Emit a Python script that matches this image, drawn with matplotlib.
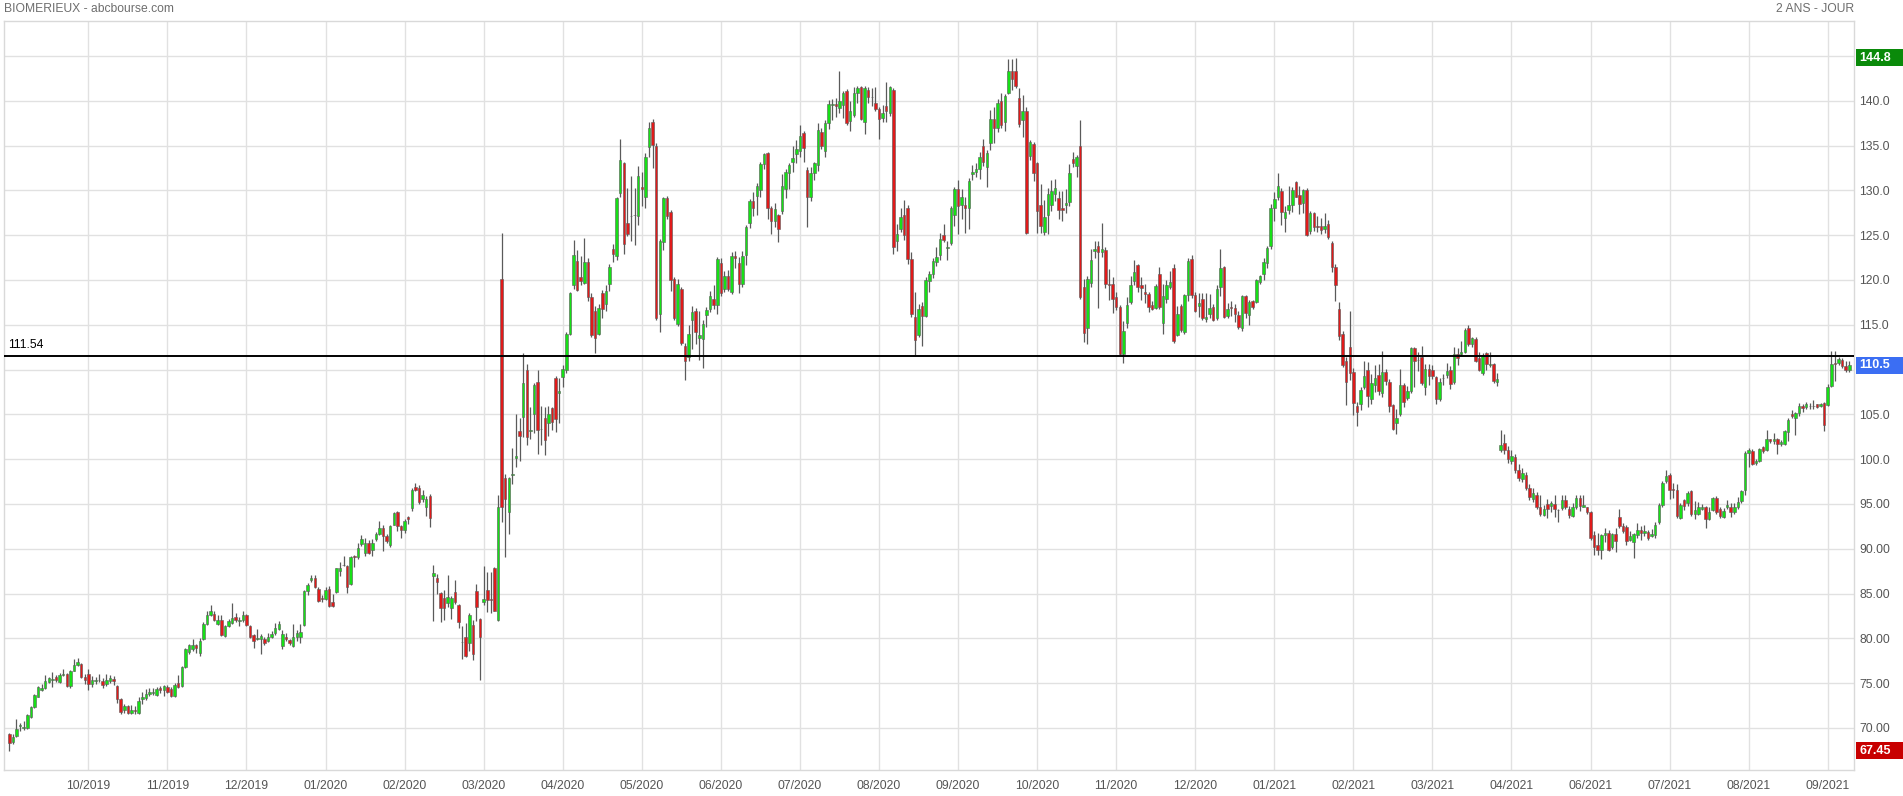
import numpy as np
import matplotlib
matplotlib.use('Agg')
import matplotlib.pyplot as plt
from matplotlib.patches import Rectangle
from matplotlib.ticker import FuncFormatter
import matplotlib.transforms as mtrans

# cours journaliers BIOMERIEUX (ouverture, plus haut, plus bas, cloture)
opens = [
    69.3, 68.4, 69.1, 70.2, 70.0, 70.0, 71.2, 72.3, 73.5, 74.2,
    74.4, 75.1, 75.35, 75.7, 75.1, 75.95, 76.0, 74.7, 76.4, 77.0,
    77.1, 75.7, 76.0, 74.9, 75.25, 75.3, 75.2, 74.9, 75.2, 75.5,
    74.7, 73.2, 72.0, 72.4, 71.7, 72.0, 71.7, 73.2, 73.3, 73.8,
    73.95, 73.7, 74.5, 74.2, 74.6, 74.3, 73.6, 75.0, 74.7, 76.8,
    78.5, 78.8, 79.2, 78.4, 79.9, 81.6, 82.6, 82.7, 81.6, 82.0,
    80.3, 81.4, 81.7, 82.4, 81.9, 82.0, 82.6, 81.4, 80.4, 79.9,
    79.9, 79.9, 79.7, 80.2, 80.55, 81.0, 79.1, 80.2, 79.8, 79.1,
    80.1, 80.2, 81.5, 85.3, 86.5, 86.7, 85.5, 84.5, 84.4, 85.5,
    84.0, 85.2, 87.5, 88.15, 88.1, 86.1, 89.2, 89.1, 90.5, 89.5,
    90.6, 89.8, 91.1, 91.6, 92.3, 91.4, 90.4, 92.7, 94.1, 92.5,
    92.1, 93.5, 94.5, 96.9, 96.8, 95.5, 94.7, 95.9, 86.9, 86.7,
    85.1, 84.5, 83.9, 83.4, 85.2, 83.7, 79.55, 80.2, 79.5, 81.5,
    85.3, 82.1, 84.0, 85.4, 84.4, 87.9, 82.0, 120.1, 97.9, 94.1,
    98.25, 100.1, 103.1, 104.7, 110.0, 103.1, 105.0, 108.6, 103.35, 104.6,
    104.0, 105.7, 109.1, 107.4, 109.2, 109.9, 114.0, 119.4, 122.1, 120.3,
    119.7, 122.0, 118.1, 116.5, 114.0, 118.5, 117.3, 119.5, 123.5, 122.7,
    129.7, 133.0, 126.4, 127.15, 127.25, 127.1, 130.4, 129.2, 134.8, 137.6,
    134.9, 116.2, 124.2, 129.1, 127.6, 120.1, 115.1, 119.0, 112.6, 111.4,
    115.5, 116.5, 113.5, 113.4, 116.1, 116.8, 117.9, 117.2, 121.9, 119.0,
    120.4, 118.6, 122.7, 121.9, 119.5, 122.8, 126.3, 128.8, 129.4, 130.0,
    132.9, 134.2, 128.0, 126.6, 127.2, 127.7, 130.2, 131.9, 133.2, 134.0,
    134.4, 136.4, 132.3, 129.2, 131.9, 132.8, 136.5, 134.4, 137.5, 139.55,
    139.6, 139.2, 139.5, 141.1, 137.7, 138.4, 140.9, 141.5, 137.6, 141.2,
    140.4, 139.7, 139.1, 138.1, 139.4, 138.6, 141.2, 124.4, 125.7, 127.2,
    128.0, 122.3, 115.9, 113.9, 117.1, 116.0, 119.9, 120.7, 122.0, 122.8,
    125.0, 123.6, 124.1, 127.3, 130.2, 128.4, 128.4, 128.0, 131.8, 132.1,
    132.4, 134.9, 132.6, 135.3, 138.0, 137.0, 140.0, 137.6, 140.9, 143.3,
    143.3, 140.3, 137.8, 138.9, 133.8, 135.2, 133.0, 128.4, 125.4, 127.3,
    128.4, 129.6, 129.1, 128.0, 128.4, 128.7, 133.5, 132.7, 135.0, 119.2,
    114.6, 119.7, 123.2, 123.8, 123.1, 123.3, 119.6, 119.6, 118.1, 117.0,
    111.7, 115.2, 117.5, 119.9, 121.7, 119.4, 118.7, 118.4, 117.2, 116.9,
    120.7, 115.2, 117.9, 119.2, 121.3, 113.9, 117.1, 114.2, 118.3, 122.3,
    118.3, 117.1, 117.9, 115.6, 116.2, 117.0, 115.7, 119.2, 121.4, 116.0,
    117.0, 116.9, 116.1, 114.6, 118.2, 116.1, 117.6, 117.5, 119.8, 120.7,
    121.9, 123.8, 128.0, 129.3, 129.9, 126.9, 127.8, 128.4, 130.9, 129.5,
    128.6, 130.0, 125.5, 127.5, 126.0, 126.0, 125.7, 126.2, 124.1, 121.4,
    116.8, 114.0, 110.9, 112.5, 109.7, 105.9, 106.2, 108.1, 109.9, 106.7,
    108.3, 109.4, 107.4, 109.7, 108.6, 106.0, 104.0, 105.0, 108.3, 106.8,
    107.6, 112.4, 111.1, 111.4, 108.1, 110.1, 110.0, 109.2, 106.7, 109.0,
    109.4, 110.0, 108.6, 111.7, 111.7, 112.0, 114.6, 112.8, 113.4, 111.3,
    109.6, 111.8, 110.55, 110.6, 108.6, 101.0, 101.8, 101.0, 99.8, 100.2,
    98.8, 97.8, 98.2, 96.8, 95.6, 96.0, 94.7, 93.8, 95.0, 94.8,
    95.0, 94.3, 94.5, 95.4, 94.4, 93.6, 94.6, 95.7, 94.7, 94.6,
    94.1, 91.5, 90.4, 89.9, 91.5, 91.7, 90.2, 91.6, 93.5, 92.5,
    92.4, 91.0, 90.7, 91.5, 92.1, 91.7, 91.9, 91.4, 91.5, 93.0,
    94.9, 97.6, 98.2, 96.7, 96.6, 93.4, 95.4, 95.1, 96.4, 93.9,
    93.9, 94.4, 94.6, 93.3, 94.3, 95.7, 94.4, 93.5, 94.6, 94.7,
    94.1, 94.6, 95.3, 96.5, 100.7, 100.9, 99.6, 99.8, 101.3, 101.0,
    102.2, 102.0, 102.2, 101.7, 101.7, 103.0, 105.0, 104.6, 105.1, 105.9,
    105.8, 105.9, 105.9, 106.1, 105.9, 106.3, 106.0, 108.2, 110.7, 110.7,
    111.1, 110.4, 109.9,
]

highs = [
    69.4, 69.3, 71.0, 70.6, 70.8, 71.5, 72.4, 73.8, 74.7, 74.9,
    75.9, 75.7, 76.2, 75.9, 76.1, 76.6, 76.1, 76.5, 77.7, 77.8,
    77.2, 76.0, 76.6, 75.8, 75.7, 76.0, 75.6, 76.0, 75.9, 75.8,
    74.8, 73.3, 72.7, 72.6, 72.5, 72.4, 73.4, 74.0, 74.3, 74.4,
    74.4, 74.6, 74.7, 74.8, 74.8, 74.6, 75.0, 75.9, 76.9, 78.9,
    79.4, 79.9, 79.4, 80.0, 81.8, 83.0, 83.7, 83.0, 82.6, 82.6,
    81.5, 82.2, 83.9, 82.8, 82.4, 83.0, 82.7, 81.5, 80.5, 81.0,
    80.5, 80.2, 80.6, 80.8, 81.7, 81.9, 80.9, 80.6, 79.9, 81.6,
    80.9, 81.6, 85.4, 86.2, 87.1, 87.1, 85.7, 84.8, 85.7, 85.8,
    85.0, 87.9, 88.5, 89.2, 88.2, 89.2, 89.3, 90.6, 91.5, 91.2,
    91.0, 91.1, 91.9, 93.1, 92.6, 91.6, 92.6, 94.1, 94.2, 92.7,
    93.3, 93.6, 96.8, 97.3, 97.1, 96.6, 95.9, 96.1, 88.2, 87.2,
    85.2, 85.4, 87.1, 84.7, 86.5, 83.8, 81.4, 81.7, 82.8, 82.0,
    86.1, 82.3, 88.1, 87.4, 87.4, 88.0, 96.0, 125.2, 98.3, 98.0,
    101.2, 105.0, 104.6, 111.8, 110.6, 105.8, 108.5, 109.9, 105.9, 105.8,
    105.9, 105.8, 109.3, 109.0, 110.5, 114.2, 118.6, 124.5, 123.3, 122.7,
    124.7, 122.5, 118.5, 117.1, 117.3, 118.9, 119.4, 121.8, 124.0, 129.3,
    135.7, 133.2, 130.3, 131.6, 130.3, 132.7, 132.1, 134.2, 137.6, 138.0,
    135.3, 124.6, 129.3, 129.4, 127.8, 120.3, 120.1, 119.2, 113.0, 115.0,
    117.1, 116.9, 116.5, 115.5, 117.0, 118.8, 119.4, 122.6, 122.4, 121.0,
    121.1, 123.1, 123.2, 122.6, 123.2, 126.1, 129.0, 129.8, 130.8, 133.2,
    134.2, 134.3, 128.3, 128.6, 127.4, 131.8, 132.4, 133.1, 134.9, 135.6,
    137.3, 136.6, 132.6, 132.6, 133.2, 137.5, 137.0, 137.9, 140.1, 140.2,
    140.3, 143.3, 141.1, 141.3, 140.0, 141.5, 141.6, 141.7, 141.6, 141.5,
    141.4, 141.5, 139.3, 139.5, 142.1, 141.6, 141.4, 126.2, 128.0, 128.9,
    128.4, 123.1, 118.6, 117.3, 117.5, 120.3, 121.0, 122.5, 123.7, 125.2,
    126.2, 124.3, 128.3, 130.4, 131.2, 130.1, 129.3, 131.4, 132.8, 133.0,
    134.3, 135.7, 134.5, 139.0, 139.3, 140.2, 140.9, 140.8, 144.7, 144.7,
    144.8, 141.4, 140.6, 139.3, 135.6, 135.4, 133.2, 130.7, 128.9, 130.3,
    131.1, 131.3, 129.9, 129.9, 130.2, 132.9, 134.3, 133.9, 137.8, 120.1,
    120.4, 123.4, 124.3, 124.4, 126.4, 123.7, 121.2, 120.3, 118.6, 117.2,
    115.4, 118.1, 120.4, 122.2, 121.8, 120.3, 119.6, 118.6, 117.6, 119.6,
    121.4, 119.6, 120.0, 121.0, 121.8, 117.1, 117.3, 118.4, 122.4, 122.8,
    118.6, 118.5, 118.5, 118.5, 118.4, 117.3, 119.4, 123.4, 121.6, 117.4,
    117.6, 117.3, 116.5, 118.3, 118.3, 117.8, 117.8, 120.1, 120.6, 122.4,
    123.8, 128.5, 129.8, 131.9, 130.3, 128.2, 130.5, 130.4, 131.0, 130.5,
    130.2, 130.3, 127.7, 127.6, 127.1, 126.9, 127.5, 126.7, 124.3, 121.8,
    117.5, 114.3, 111.4, 116.5, 110.2, 106.4, 108.0, 111.0, 110.8, 109.5,
    110.5, 110.6, 112.1, 110.1, 108.9, 106.1, 105.6, 110.1, 108.5, 108.2,
    112.5, 112.5, 112.0, 112.6, 110.6, 110.6, 110.5, 109.3, 109.1, 109.5,
    110.7, 110.4, 112.5, 112.4, 113.2, 114.6, 115.0, 113.6, 113.6, 112.0,
    111.8, 112.0, 112.0, 110.7, 109.6, 103.3, 102.8, 101.5, 101.0, 100.6,
    99.4, 99.0, 98.6, 97.2, 96.8, 96.3, 96.0, 94.9, 95.6, 95.3,
    96.0, 94.4, 96.0, 96.0, 94.8, 95.1, 96.0, 96.0, 96.0, 94.7,
    94.2, 92.0, 91.7, 91.6, 92.3, 92.1, 91.7, 92.3, 94.4, 92.9,
    92.6, 92.0, 91.8, 92.9, 92.5, 92.6, 92.1, 92.2, 93.0, 95.1,
    97.6, 98.8, 98.4, 97.3, 97.2, 95.1, 95.6, 96.4, 96.6, 95.3,
    95.2, 95.0, 94.8, 94.6, 95.8, 95.9, 94.6, 94.5, 95.4, 95.1,
    95.1, 95.8, 96.6, 100.9, 101.2, 101.1, 100.0, 101.2, 101.5, 103.2,
    102.3, 102.9, 102.4, 102.1, 103.2, 104.6, 105.5, 105.3, 106.3, 106.1,
    106.4, 106.3, 106.6, 106.2, 106.3, 106.4, 108.4, 112.1, 112.1, 111.4,
    111.3, 110.9, 110.9,
]

lows = [
    67.45, 68.2, 69.0, 69.6, 69.8, 69.9, 71.1, 72.2, 73.4, 74.1,
    74.3, 75.0, 74.6, 75.1, 75.0, 75.8, 74.6, 74.5, 76.3, 76.9,
    75.6, 74.9, 74.2, 74.6, 74.9, 75.1, 74.5, 74.7, 75.0, 74.8,
    72.8, 71.5, 71.7, 71.6, 71.6, 71.6, 71.6, 72.7, 73.1, 73.6,
    73.7, 73.6, 73.9, 73.6, 73.9, 73.4, 73.5, 74.5, 74.6, 76.7,
    78.2, 78.6, 78.4, 78.0, 79.8, 81.5, 82.5, 81.9, 81.5, 80.3,
    80.2, 81.3, 81.6, 81.8, 81.4, 81.8, 81.4, 80.0, 78.9, 79.8,
    78.3, 79.3, 79.6, 80.0, 80.4, 80.9, 78.8, 79.7, 79.2, 79.0,
    79.7, 79.5, 81.4, 84.8, 86.3, 85.6, 84.0, 84.0, 84.3, 83.5,
    83.5, 85.1, 87.0, 88.1, 85.1, 86.0, 88.0, 88.9, 90.3, 89.2,
    89.4, 89.2, 90.9, 91.5, 89.7, 90.6, 90.2, 92.6, 92.0, 91.2,
    91.8, 92.8, 94.2, 96.4, 95.0, 95.2, 93.7, 92.4, 81.9, 84.9,
    81.8, 82.0, 83.5, 82.2, 83.8, 81.2, 77.7, 77.9, 78.6, 77.6,
    81.9, 75.3, 83.7, 82.9, 82.8, 83.0, 81.9, 93.0, 89.1, 91.6,
    97.2, 99.1, 99.8, 102.5, 101.6, 102.3, 102.9, 100.6, 101.6, 100.5,
    102.6, 103.3, 103.0, 104.0, 108.0, 109.6, 113.9, 119.0, 118.8, 119.4,
    119.5, 117.7, 113.6, 111.8, 113.9, 115.7, 116.5, 118.8, 122.0, 122.2,
    129.2, 122.9, 124.9, 124.4, 123.9, 126.1, 128.3, 128.0, 133.7, 132.5,
    115.5, 114.2, 123.3, 126.8, 118.8, 115.5, 114.9, 112.7, 108.8, 110.9,
    112.3, 112.8, 111.1, 110.2, 114.8, 116.4, 116.7, 116.2, 118.2, 118.6,
    118.8, 118.4, 121.3, 118.5, 119.2, 121.7, 125.8, 127.1, 127.3, 129.2,
    132.4, 126.8, 125.1, 125.9, 124.2, 127.4, 129.1, 130.2, 132.1, 133.1,
    133.7, 133.2, 125.9, 128.8, 131.2, 132.2, 134.6, 133.7, 136.9, 137.8,
    138.2, 138.6, 138.1, 137.3, 136.6, 138.2, 139.7, 137.8, 136.3, 139.8,
    139.4, 138.9, 135.7, 137.6, 137.6, 138.3, 122.9, 123.2, 125.3, 124.5,
    121.8, 115.9, 111.6, 113.6, 112.6, 115.9, 118.6, 120.2, 121.5, 122.2,
    124.2, 122.2, 123.9, 126.0, 125.1, 126.8, 125.2, 125.7, 131.2, 131.5,
    131.3, 132.7, 130.4, 134.5, 135.3, 136.5, 137.0, 136.6, 140.7, 141.2,
    141.4, 137.1, 136.0, 125.1, 133.4, 131.0, 125.2, 125.2, 125.0, 125.1,
    127.7, 128.8, 126.8, 126.6, 127.5, 128.3, 132.6, 131.5, 117.9, 113.1,
    112.9, 119.2, 122.4, 116.9, 122.6, 119.1, 117.8, 116.3, 116.6, 111.6,
    110.7, 114.6, 117.3, 119.4, 118.6, 117.8, 117.4, 116.4, 116.6, 116.7,
    116.8, 114.0, 117.4, 119.0, 113.0, 113.7, 114.2, 114.0, 117.6, 118.0,
    116.4, 115.9, 115.5, 115.3, 115.7, 115.4, 115.5, 118.2, 115.8, 115.7,
    116.0, 115.3, 114.5, 114.3, 115.7, 115.0, 116.8, 117.4, 119.6, 120.0,
    121.3, 123.4, 126.6, 128.9, 126.1, 125.3, 127.4, 127.6, 129.2, 127.4,
    127.5, 124.9, 125.1, 125.5, 125.3, 125.1, 125.2, 124.6, 120.9, 117.6,
    113.3, 110.3, 106.0, 108.8, 104.9, 103.7, 105.5, 107.8, 105.8, 106.2,
    107.5, 107.2, 106.9, 108.3, 105.3, 103.3, 102.8, 104.8, 105.8, 106.6,
    107.4, 108.0, 109.8, 108.3, 107.2, 108.3, 108.9, 106.2, 106.5, 108.3,
    109.0, 107.8, 108.4, 110.5, 111.5, 111.8, 112.6, 112.5, 110.8, 109.8,
    109.4, 110.0, 110.3, 108.5, 108.2, 100.8, 100.6, 99.6, 99.5, 98.5,
    97.6, 97.4, 96.5, 95.4, 95.2, 94.4, 93.7, 93.6, 93.4, 94.1,
    93.5, 93.0, 94.3, 94.4, 93.4, 93.5, 94.4, 94.2, 94.6, 93.9,
    91.0, 89.3, 89.3, 88.9, 90.7, 89.7, 90.0, 89.6, 92.3, 91.7,
    90.4, 90.9, 89.0, 91.2, 91.0, 91.4, 91.0, 91.3, 91.2, 92.8,
    94.7, 97.3, 95.6, 95.7, 93.4, 93.3, 94.3, 94.8, 93.7, 93.3,
    93.8, 94.3, 92.3, 93.2, 94.2, 93.9, 93.4, 93.4, 94.4, 93.5,
    93.9, 94.4, 95.1, 96.0, 99.1, 99.3, 99.3, 99.7, 100.7, 100.9,
    101.8, 101.7, 100.6, 101.5, 101.6, 102.0, 104.6, 102.7, 104.8, 105.3,
    105.6, 105.6, 105.6, 105.7, 105.8, 103.1, 105.9, 108.1, 108.7, 110.5,
    110.2, 109.7, 109.7,
]

closes = [
    68.3, 69.0, 69.9, 70.3, 70.1, 71.4, 72.3, 73.7, 74.6, 74.4,
    75.2, 75.6, 75.45, 75.3, 75.9, 76.0, 74.7, 76.4, 77.0, 77.4,
    75.7, 75.3, 74.9, 75.4, 75.3, 75.4, 74.8, 75.4, 75.6, 75.2,
    73.2, 71.8, 72.4, 71.7, 72.0, 71.9, 73.0, 73.4, 73.8, 74.0,
    74.0, 74.3, 74.2, 74.7, 74.0, 73.6, 74.8, 74.6, 76.8, 78.8,
    79.2, 79.3, 78.9, 79.7, 81.6, 82.6, 83.1, 82.0, 82.0, 80.4,
    81.4, 81.9, 82.3, 82.0, 82.0, 82.6, 81.5, 80.2, 79.7, 80.0,
    80.3, 79.5, 80.1, 80.5, 81.2, 81.6, 80.5, 79.9, 79.5, 80.2,
    80.55, 80.7, 85.3, 85.9, 86.7, 85.7, 84.2, 84.4, 85.4, 83.6,
    83.6, 87.8, 87.8, 88.2, 85.7, 89.1, 89.1, 90.1, 91.1, 90.6,
    89.5, 90.6, 91.6, 92.3, 91.4, 90.9, 92.5, 94.0, 92.5, 92.1,
    93.1, 93.3, 96.6, 96.6, 95.2, 96.0, 95.6, 93.4, 87.3, 86.3,
    83.4, 83.4, 84.6, 84.5, 84.1, 81.8, 79.6, 78.0, 82.6, 78.3,
    83.5, 80.2, 84.4, 84.3, 84.3, 83.1, 94.7, 94.6, 95.5, 97.9,
    98.3, 100.3, 102.6, 108.5, 102.5, 103.2, 108.3, 103.3, 103.4, 102.1,
    105.0, 104.1, 104.5, 107.6, 110.1, 114.0, 118.5, 122.8, 118.9, 119.9,
    122.0, 118.1, 113.8, 113.5, 116.9, 116.8, 118.8, 121.4, 122.9, 129.1,
    133.4, 124.0, 125.1, 127.1, 127.2, 131.6, 130.1, 133.7, 137.0, 135.1,
    115.8, 124.4, 129.1, 127.1, 120.0, 115.8, 119.6, 113.0, 111.0, 114.0,
    116.4, 114.2, 113.8, 115.1, 116.6, 118.2, 117.2, 122.3, 118.5, 120.4,
    119.0, 122.7, 122.4, 119.5, 122.7, 125.9, 128.8, 128.0, 130.5, 132.9,
    134.1, 128.0, 126.6, 127.9, 125.7, 130.5, 132.0, 132.8, 133.6, 134.6,
    136.1, 134.7, 129.3, 131.9, 133.0, 136.7, 134.9, 137.5, 139.6, 139.6,
    139.4, 140.0, 140.9, 137.5, 138.9, 140.9, 141.4, 138.0, 141.4, 140.4,
    140.45, 139.1, 138.0, 138.6, 138.8, 141.5, 123.7, 125.1, 127.0, 125.0,
    122.3, 116.2, 113.3, 116.8, 116.0, 120.0, 120.7, 122.1, 122.6, 124.6,
    124.5, 123.65, 128.0, 130.2, 128.3, 129.2, 128.0, 131.0, 132.1, 132.4,
    133.7, 133.2, 134.2, 138.0, 137.0, 139.8, 137.3, 140.5, 143.3, 142.4,
    141.7, 137.4, 138.8, 125.2, 135.4, 131.9, 127.7, 126.0, 127.0, 129.6,
    129.9, 130.3, 127.8, 127.8, 128.6, 131.9, 133.1, 133.7, 118.1, 114.1,
    120.1, 122.2, 123.4, 123.1, 123.4, 119.6, 119.4, 117.9, 117.0, 111.7,
    114.3, 117.2, 119.4, 120.9, 119.2, 119.1, 118.4, 117.0, 116.8, 119.3,
    117.0, 118.2, 119.4, 119.8, 113.2, 116.2, 114.4, 118.3, 122.1, 118.3,
    116.5, 117.4, 115.7, 115.9, 116.9, 115.5, 119.0, 121.3, 115.9, 116.7,
    116.9, 116.2, 114.7, 118.2, 116.3, 117.5, 117.0, 120.0, 120.4, 122.0,
    123.6, 128.0, 129.0, 130.5, 127.6, 127.6, 128.4, 130.0, 129.3, 128.5,
    130.0, 125.0, 127.5, 125.9, 125.95, 125.6, 126.0, 124.8, 121.4, 119.4,
    113.7, 110.5, 108.6, 109.6, 106.3, 105.3, 107.7, 109.3, 107.0, 108.5,
    109.0, 107.6, 109.7, 108.7, 105.9, 103.4, 104.6, 108.3, 106.4, 107.6,
    112.4, 111.0, 111.05, 108.5, 110.1, 109.3, 109.3, 106.7, 108.6, 109.1,
    109.8, 108.4, 111.7, 111.3, 112.0, 114.4, 112.8, 113.5, 111.0, 109.9,
    111.6, 110.6, 110.65, 108.7, 108.9, 101.6, 101.0, 100.0, 100.4, 98.8,
    97.9, 98.5, 96.8, 95.8, 96.2, 94.7, 93.9, 94.4, 94.4, 95.1,
    94.4, 94.35, 95.4, 94.6, 93.8, 94.6, 95.7, 94.8, 94.9, 94.1,
    91.2, 90.2, 89.9, 91.5, 91.7, 89.9, 91.6, 90.9, 92.5, 92.0,
    90.9, 91.4, 91.6, 92.1, 91.8, 92.0, 91.2, 91.6, 92.7, 94.9,
    97.3, 98.1, 96.6, 96.5, 93.6, 94.9, 94.8, 96.2, 93.9, 94.3,
    94.7, 94.6, 93.3, 94.1, 95.7, 94.1, 93.6, 94.2, 94.9, 94.1,
    94.6, 95.2, 96.4, 100.7, 101.0, 99.5, 99.8, 101.1, 100.9, 102.2,
    102.0, 102.3, 101.7, 101.9, 103.1, 104.4, 104.8, 105.2, 105.9, 105.7,
    106.1, 105.95, 105.95, 105.8, 106.1, 103.8, 108.0, 110.6, 110.6, 111.2,
    110.4, 109.9, 110.5,
]

# graduations de l'axe du temps (indice de seance) et leurs libelles
month_idx = [22, 44, 66, 88, 110, 132, 154, 176, 198, 220, 242, 264,
             286, 308, 330, 352, 374, 396, 418, 440, 462, 484, 506]
month_labels = ['10/2019', '11/2019', '12/2019', '01/2020', '02/2020', '03/2020',
                '04/2020', '05/2020', '06/2020', '07/2020', '08/2020', '09/2020',
                '10/2020', '11/2020', '12/2020', '01/2021', '02/2021', '03/2021',
                '04/2021', '06/2021', '07/2021', '08/2021', '09/2021']
price_ticks = [70, 75, 80, 85, 90, 95, 100, 105, 110, 115, 120, 125, 130, 135, 140, 145]
ref_level = 111.54
last_price = 110.5
max_price = 144.8
min_price = 67.45

plt.rcParams['font.family'] = ['Liberation Sans', 'DejaVu Sans']

W, H = 1903, 796
fig = plt.figure(figsize=(W / 100, H / 100), dpi=100)
fig.patch.set_facecolor('white')
ax = fig.add_axes([4 / W, 1 - 770 / H, 1850 / W, 749 / H])

o = np.array(opens)
hi = np.array(highs)
lo = np.array(lows)
c = np.array(closes)
n = len(c)
x = np.arange(n)
up = c >= o

step = 1840 / (n - 1)   # pixels par seance
green = '#16e016'
red = '#e01a1a'
edge = '#5a5a5a'

ax.vlines(x, lo, hi, color=edge, lw=0.9, zorder=2)
bot = np.minimum(o, c)
hgt = np.maximum(np.abs(c - o), 0.06)
bw = 2.5 / step
ax.bar(x[up], hgt[up], bottom=bot[up], width=bw, color=green,
       edgecolor=edge, linewidth=0.4, zorder=3)
ax.bar(x[~up], hgt[~up], bottom=bot[~up], width=bw, color=red,
       edgecolor=edge, linewidth=0.4, zorder=3)

ax.axhline(ref_level, color='black', lw=1.4, zorder=4)

ax.set_xlim(-5.3 / step, (1850 - 5.3) / step)
ax.set_ylim(65.3, 148.9)

ax.set_axisbelow(True)
ax.grid(True, color='#e1e1e1', lw=1.0)
for s in ax.spines.values():
    s.set_color('#d9d9d9')
    s.set_linewidth(1.0)


def price_fmt(v, p):
    # l'etiquette 110.0 est recouverte par le cartouche du dernier cours
    if abs(v - 110) < 0.01:
        return ''
    return f'{v:.1f}' if v >= 100 else f'{v:.2f}'


ax.set_xticks(month_idx)
ax.set_xticklabels(month_labels)
ax.set_yticks(price_ticks)
ax.yaxis.set_major_formatter(FuncFormatter(price_fmt))
ax.yaxis.tick_right()
ax.tick_params(axis='y', length=0, pad=4, labelsize=8.7, labelcolor='#555555')
ax.tick_params(axis='x', length=0, pad=7, labelsize=8.7, labelcolor='#555555')

# titres
fig.text(4 / W, 1 - 9 / H, 'BIOMERIEUX - abcbourse.com', ha='left', va='center',
         fontsize=8.7, color='#6e6e6e')
fig.text(1854 / W, 1 - 9 / H, '2 ANS - JOUR', ha='right', va='center',
         fontsize=8.7, color='#6e6e6e')

# etiquette de la ligne horizontale
ax.text(0.7 / step - 5.3 / step + 5.3 / step * 0 + 1.0, ref_level + 0.55, f'{ref_level:.2f}',
        ha='left', va='bottom', fontsize=8.7, color='black')

# etiquettes de prix a droite
blend = mtrans.blended_transform_factory(fig.transFigure, ax.transData)
for val, col in [(max_price, '#0a8a0a'), (last_price, '#3b6ef3'), (min_price, '#c80000')]:
    ax.add_patch(Rectangle((1856 / W, val - 0.95), 47 / W, 1.9, transform=blend,
                           facecolor=col, edgecolor='none', clip_on=False, zorder=6))
    ax.text(1859 / W, val, f'{val:g}', transform=blend, ha='left', va='center',
            fontsize=9, fontweight='bold', color='white', clip_on=False, zorder=7)

fig.savefig('out.png', dpi=100)
